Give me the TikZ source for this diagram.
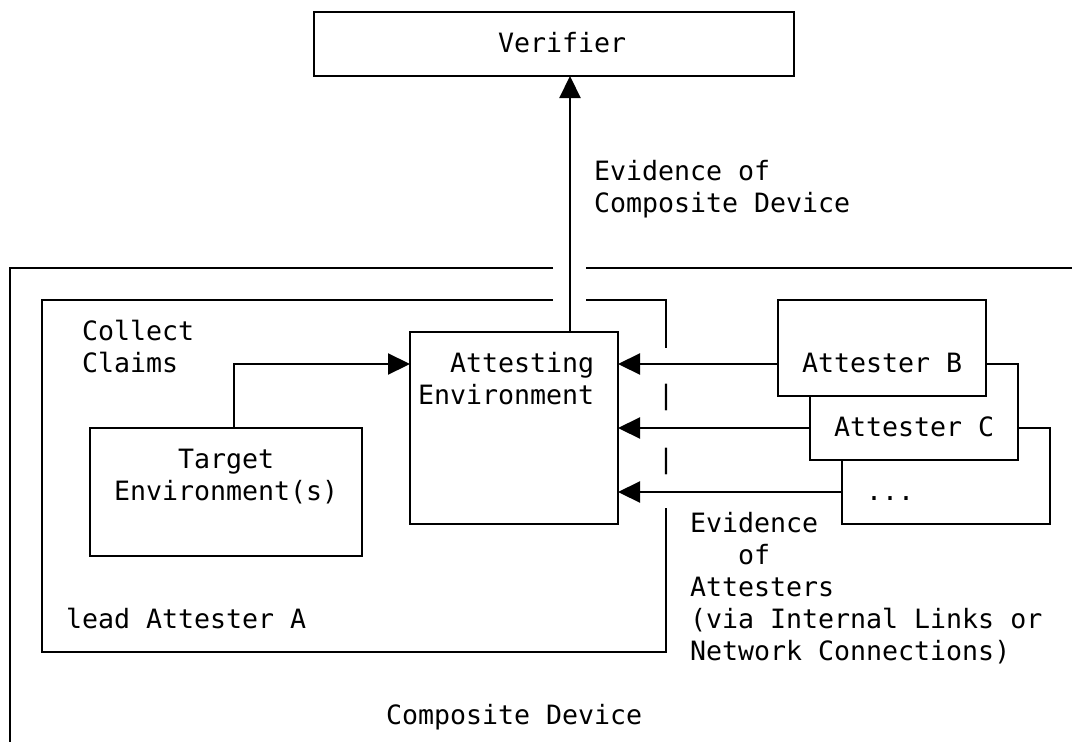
\documentclass[tikz,border=0pt]{standalone}
\usepackage{fontspec}
\newfontfamily\monofam{DejaVu Sans Mono}
\usetikzlibrary{arrows.meta}
\begin{document}
\begin{tikzpicture}[x=1pt,y=-1pt,
  line width=2.2pt,
  box/.style={draw, rectangle, inner sep=0pt, outer sep=0pt, fill=white},
  txt/.style={anchor=base west, inner sep=0pt, outer sep=0pt, font=\monofam\fontsize{26.6pt}{32pt}\selectfont},
  arr/.style={-{Triangle[length=22pt,width=21pt]}}]
\useasboundingbox (0,0) rectangle (1072,742);

% boxes
\node[box, minimum width=480pt, minimum height=64pt] (V) at (554,44) {};
\node[box, minimum width=208pt, minimum height=192pt] (AE) at (514,428) {};
\node[box, minimum width=272pt, minimum height=128pt] (T) at (226,492) {};
\node[box, minimum width=208pt, minimum height=96pt] (D) at (946,476) {};
\node[box, minimum width=208pt, minimum height=96pt] (C) at (914,412) {};
\node[box, minimum width=208pt, minimum height=96pt] (B) at (882,348) {};

% composite device frame
\draw (553,268) -- (10,268) -- (10,742);
\draw (586,268) -- (1072,268);
% lead attester frame
\draw (553,300) -- (42,300) -- (42,652) -- (666,652) -- (666,508);
\draw (586,300) -- (666,300) -- (666,348);

% connectors
\draw[arr] ([xshift=56pt]AE.north) -- ([xshift=56pt]AE.north |- V.south);
\draw[arr] ([xshift=8pt]T.north) |- ([yshift=64pt]AE.west);
\draw[arr] ([yshift=-16pt]B.west) -- ([yshift=-16pt]B.west -| AE.east);
\draw[arr] ([yshift=-16pt]C.west) -- ([yshift=-16pt]C.west -| AE.east);
\draw[arr] ([yshift=-16pt]D.west) -- ([yshift=-16pt]D.west -| AE.east);

% texts
\node[txt] (tV) at (498,52) {Verifier};
\node[txt] (tE1) at (594,180) {Evidence of};
\node[txt] (tE2) at (594,212) {Composite Device};
\node[txt] (tCC1) at (82,340) {Collect};
\node[txt] (tCC2) at (82,372) {Claims};
\node[txt] (tAE1) at (450,372) {Attesting};
\node[txt] (tAE2) at (418,404) {Environment};
\node[txt] (tB) at (802,372) {Attester B};
\node[txt] (tC) at (834,436) {Attester C};
\node[txt] (tD) at (866,500) {...};
\node[txt] (bar1) at (658,404) {|};
\node[txt] (bar2) at (658,468) {|};
\node[txt] (tT1) at (178,468) {Target};
\node[txt] (tT2) at (114,500) {Environment(s)};
\node[txt] (tEA1) at (690,532) {Evidence};
\node[txt] (tEA2) at (738,564) {of};
\node[txt] (tEA3) at (690,596) {Attesters};
\node[txt] (tEA4) at (690,628) {(via Internal Links or};
\node[txt] (tEA5) at (690,660) {Network Connections)};
\node[txt] (tLA) at (66,628) {lead Attester A};
\node[txt] (tCD) at (386,724) {Composite Device};
\end{tikzpicture}
\end{document}
